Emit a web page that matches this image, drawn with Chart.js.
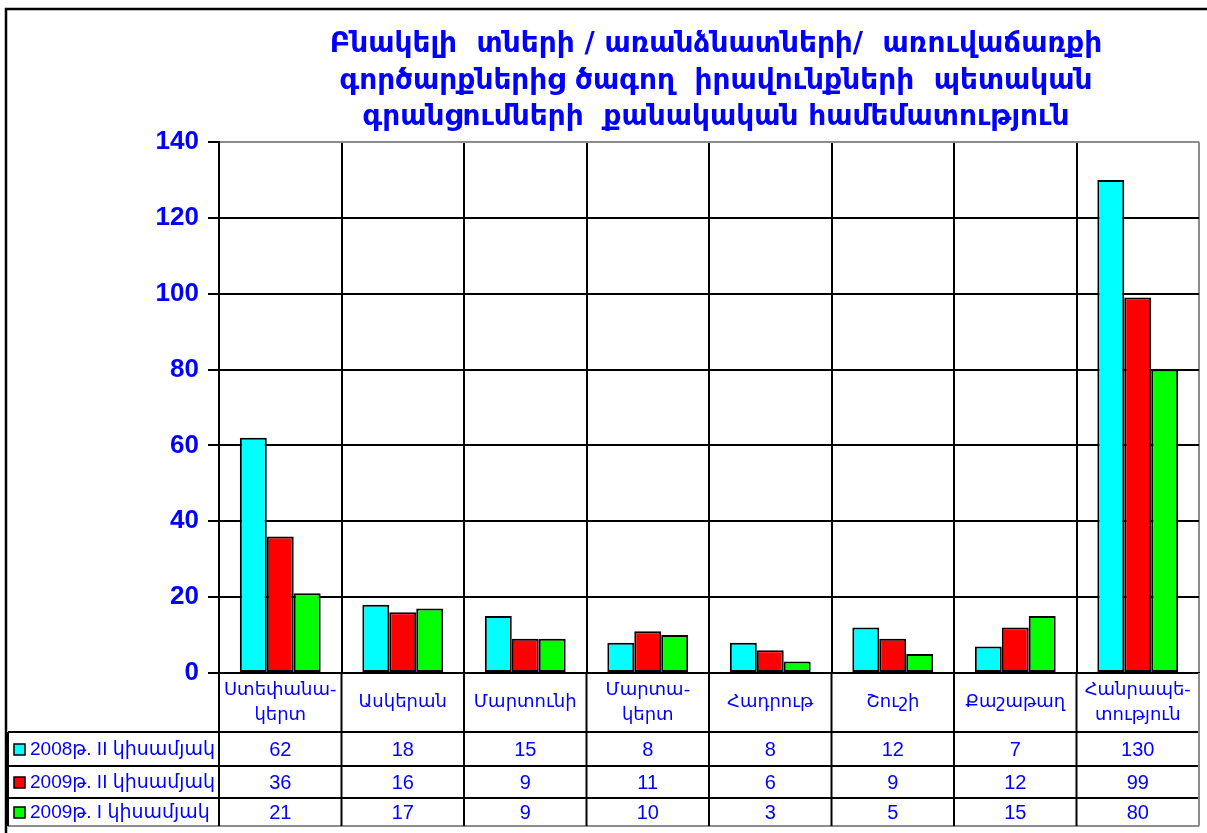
<!DOCTYPE html>
<html>
<head>
<meta charset="utf-8">
<script src="https://cdn.jsdelivr.net/npm/chart.js@4/dist/chart.umd.min.js"></script>
<style>
  body { margin: 0; background: #fff; }
  #wrap { width: 1207px; height: 833px; }
</style>
</head>
<body>
<div id="wrap"><canvas id="chart" width="1207" height="833"></canvas></div>
<script>
'use strict';

// data
const categories = [['Ստեփանա-', 'կերտ'], 'Ասկերան', 'Մարտունի', ['Մարտա-', 'կերտ'], 'Հադրութ', 'Շուշի', 'Քաշաթաղ', ['Հանրապե-', 'տություն']];
const seriesNames = ['2008թ. II կիսամյակ', '2009թ. II կիսամյակ', '2009թ. I կիսամյակ'];
const values2008II = [62, 18, 15, 8, 8, 12, 7, 130];
const values2009II = [36, 16, 9, 11, 6, 9, 12, 99];
const values2009I = [21, 17, 9, 10, 3, 5, 15, 80];
const yTicks = [0, 20, 40, 60, 80, 100, 120, 140];
const titleLines = [
  'Բնակելի  տների / առանձնատների/  առուվաճառքի',
  'գործարքներից ծագող  իրավունքների  պետական',
  'գրանցումների  քանակական համեմատություն'
];

const BLUE = '#0000ff';
const GRAY = '#8c8c8c';
const ARM = '"Liberation Sans", "DejaVu Sans", sans-serif';

// table rows (y of lines under the plot)
const rowLines = [732, 766, 798, 826];
const legendLeft = 8;

let tablePlugin = {
  id: 'tablePlugin',
  beforeDraw(chart) {
    const ctx = chart.ctx;
    ctx.save();
    ctx.fillStyle = '#fff';
    ctx.fillRect(0, 0, chart.width, chart.height);
    ctx.restore();
  },
  afterDraw(chart) {
    const ctx = chart.ctx;
    const x = chart.scales.x;
    const area = chart.chartArea;
    const step = (area.right - area.left) / categories.length;

    ctx.save();

    // title
    ctx.fillStyle = BLUE;
    ctx.textAlign = 'center';
    ctx.textBaseline = 'middle';
    ctx.font = 'bold 28px "DejaVu Sans"';
    const titleY = [45, 82, 118];
    for (let i = 0; i < titleLines.length; i++) {
      ctx.fillText(titleLines[i], 716, titleY[i]);
    }

    // outer frame (left / top)
    ctx.strokeStyle = '#000';
    ctx.lineWidth = 2.5;
    ctx.beginPath();
    ctx.moveTo(6, 833);
    ctx.lineTo(6, 9);
    ctx.lineTo(1207, 9);
    ctx.stroke();

    // table grid
    ctx.lineWidth = 2;
    ctx.strokeStyle = '#000';
    for (let i = 0; i < rowLines.length - 1; i++) {
      ctx.beginPath();
      ctx.moveTo(legendLeft, rowLines[i]);
      ctx.lineTo(area.right, rowLines[i]);
      ctx.stroke();
    }
    ctx.strokeStyle = GRAY;
    ctx.beginPath();
    ctx.moveTo(legendLeft, rowLines[3]);
    ctx.lineTo(area.right, rowLines[3]);
    ctx.stroke();

    ctx.strokeStyle = '#000';
    for (let i = 0; i < categories.length; i++) {
      let lx = area.left + i * step;
      ctx.beginPath();
      ctx.moveTo(lx, area.bottom);
      ctx.lineTo(lx, rowLines[3]);
      ctx.stroke();
    }
    ctx.strokeStyle = GRAY;
    ctx.beginPath();
    ctx.moveTo(area.right, area.bottom);
    ctx.lineTo(area.right, rowLines[3]);
    ctx.stroke();
    ctx.strokeStyle = '#000';
    ctx.beginPath();
    ctx.moveTo(legendLeft, rowLines[0]);
    ctx.lineTo(legendLeft, rowLines[3]);
    ctx.stroke();

    // category labels
    ctx.fillStyle = BLUE;
    ctx.font = '18px "DejaVu Sans"';
    const labelMid = (area.bottom + rowLines[0]) / 2;
    for (let i = 0; i < categories.length; i++) {
      let cx = x.getPixelForValue(i);
      let lines = Array.isArray(categories[i]) ? categories[i] : [categories[i]];
      let lh = 25;
      let y0 = labelMid - (lines.length - 1) * lh / 2;
      for (let j = 0; j < lines.length; j++) {
        ctx.fillText(lines[j], cx, y0 + j * lh);
      }
    }

    // value rows with legend keys
    const datasets = chart.data.datasets;
    for (let r = 0; r < datasets.length; r++) {
      let cy = (rowLines[r] + rowLines[r + 1]) / 2 + 1;
      ctx.font = '20px ' + ARM;
      ctx.textAlign = 'center';
      ctx.fillStyle = BLUE;
      for (let i = 0; i < categories.length; i++) {
        ctx.fillText(String(datasets[r].data[i]), x.getPixelForValue(i), cy);
      }
      // key
      ctx.fillStyle = datasets[r].backgroundColor;
      ctx.fillRect(14, cy - 6, 11, 11);
      ctx.lineWidth = 1.5;
      ctx.strokeStyle = '#000';
      ctx.strokeRect(14, cy - 6, 11, 11);
      ctx.fillStyle = BLUE;
      ctx.textAlign = 'left';
      ctx.font = '19px ' + ARM;
      ctx.fillText(datasets[r].label, 30, cy);
    }

    ctx.restore();
  }
};

const ctx = document.getElementById('chart').getContext('2d');

let myChart = new Chart(ctx, {
  type: 'bar',
  data: {
    labels: categories,
    datasets: [
      { label: seriesNames[0], data: values2008II, backgroundColor: '#00ffff' },
      { label: seriesNames[1], data: values2009II, backgroundColor: '#ff0000' },
      { label: seriesNames[2], data: values2009I, backgroundColor: '#00ff00' }
    ]
  },
  options: {
    responsive: false,
    animation: false,
    layout: { padding: { top: 142, left: 0, right: 8, bottom: 0 } },
    datasets: {
      bar: {
        categoryPercentage: 0.66,
        barPercentage: 1,
        borderColor: '#000',
        borderWidth: 2,
        borderSkipped: false
      }
    },
    plugins: {
      legend: { display: false },
      tooltip: { enabled: false },
      title: { display: false }
    },
    scales: {
      x: {
        ticks: { display: false },
        grid: {
          offset: true,
          drawTicks: false,
          lineWidth: 2,
          color: (c) => (c.tick ? '#000' : GRAY)
        },
        border: { display: true, color: '#000', width: 2 },
        afterFit(scale) { scale.height = 160; }
      },
      y: {
        min: 0,
        max: 140,
        afterBuildTicks(scale) { scale.ticks = yTicks.map(v => ({ value: v })); },
        ticks: {
          color: BLUE,
          padding: 9,
          font: { family: 'Liberation Sans', size: 26, weight: 'bold' }
        },
        grid: {
          lineWidth: 2,
          tickLength: 11,
          tickColor: '#000',
          color: (c) => (c.tick && c.tick.value === 140 ? GRAY : '#000')
        },
        border: { display: true, color: '#000', width: 2 },
        afterFit(scale) { scale.width = 219; }
      }
    }
  },
  plugins: [tablePlugin]
});
</script>
</body>
</html>
